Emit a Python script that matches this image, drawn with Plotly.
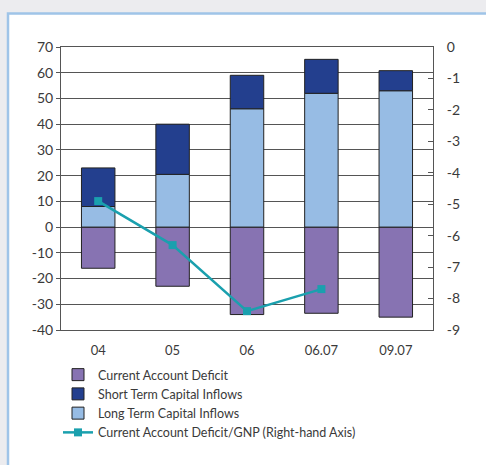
import plotly.graph_objects as go

categories = ["04", "05", "06", "06.07", "09.07"]
current_account_deficit = [-16, -23, -34, -33.5, -35]
long_term_inflows = [8, 20.5, 46, 52, 53]
short_term_inflows = [15, 19.5, 13, 13.2, 7.8]
cad_gnp = [-4.9, -6.3, -8.4, -7.7, None]
left_ticks = list(range(-40, 80, 10))
right_ticks = list(range(-9, 1, 1))
left_labels = [str(v) for v in left_ticks]
right_labels = [str(v) for v in right_ticks]

FONT = "Lato"
TXT = "#3a3a3a"
W, H = 486, 465
L, R, T, B = 61, 53, 47, 135
pw, ph = W - L - R, H - T - B

def px_x(p):
    return (p - L) / pw

def px_y(p):
    return (H - B - p) / ph

fig = go.Figure()
edge = dict(color="#222222", width=1)
fig.add_trace(go.Bar(x=categories, y=current_account_deficit, name="Current Account Deficit",
                     marker=dict(color="#8773b2", line=edge), width=0.45, legendrank=1))
fig.add_trace(go.Bar(x=categories, y=long_term_inflows, name="Long Term Capital Inflows",
                     marker=dict(color="#97bce4", line=edge), width=0.45, legendrank=3))
fig.add_trace(go.Bar(x=categories, y=short_term_inflows, name="Short Term Capital Inflows",
                     marker=dict(color="#233f8e", line=edge), width=0.45, legendrank=2))
fig.add_trace(go.Scatter(x=categories, y=cad_gnp, yaxis="y2", mode="lines+markers",
                         name="Current Account Deficit/GNP (Right-hand Axis)",
                         line=dict(color="#1aa0ae", width=2.5),
                         marker=dict(symbol="square", size=8, color="#1aa0ae"),
                         legendrank=4, connectgaps=False))

fig.update_layout(
    width=W, height=H,
    margin=dict(l=L, r=R, t=T, b=B),
    paper_bgcolor="#ececef",
    plot_bgcolor="rgba(0,0,0,0)",
    barmode="relative",
    font=dict(family=FONT, color=TXT, size=13),
    showlegend=True,
    legend=dict(x=px_x(58), y=px_y(360), xanchor="left", yanchor="top",
                font=dict(size=12.5, color=TXT), bgcolor="rgba(0,0,0,0)",
                tracegroupgap=0, itemwidth=30),
    xaxis=dict(showline=True, linecolor="#555555", linewidth=1, mirror=True,
               ticks="", tickfont=dict(size=13), showgrid=False, ticklabelstandoff=8),
    yaxis=dict(range=[-40, 70], tickvals=left_ticks, ticktext=left_labels, showline=True,
               linecolor="#555555", linewidth=1, ticks="outside", ticklen=4,
               tickcolor="#555555", showgrid=True, gridcolor="#555555", gridwidth=1,
               zeroline=False, tickfont=dict(size=14), ticklabelstandoff=0),
    yaxis2=dict(range=[-9, 0], tickvals=right_ticks, ticktext=right_labels, overlaying="y",
                side="right", showline=True, linecolor="#555555", linewidth=1,
                ticks="inside", ticklen=5, tickcolor="#555555", showgrid=False,
                zeroline=False, tickfont=dict(size=14), ticklabelstandoff=10),
    shapes=[dict(type="rect", xref="paper", yref="paper", layer="below",
                 x0=px_x(8), x1=px_x(500), y0=px_y(480), y1=px_y(13.5),
                 fillcolor="white", line=dict(color="#9fc4e8", width=2.5))],
)

fig.write_html("out.html")
